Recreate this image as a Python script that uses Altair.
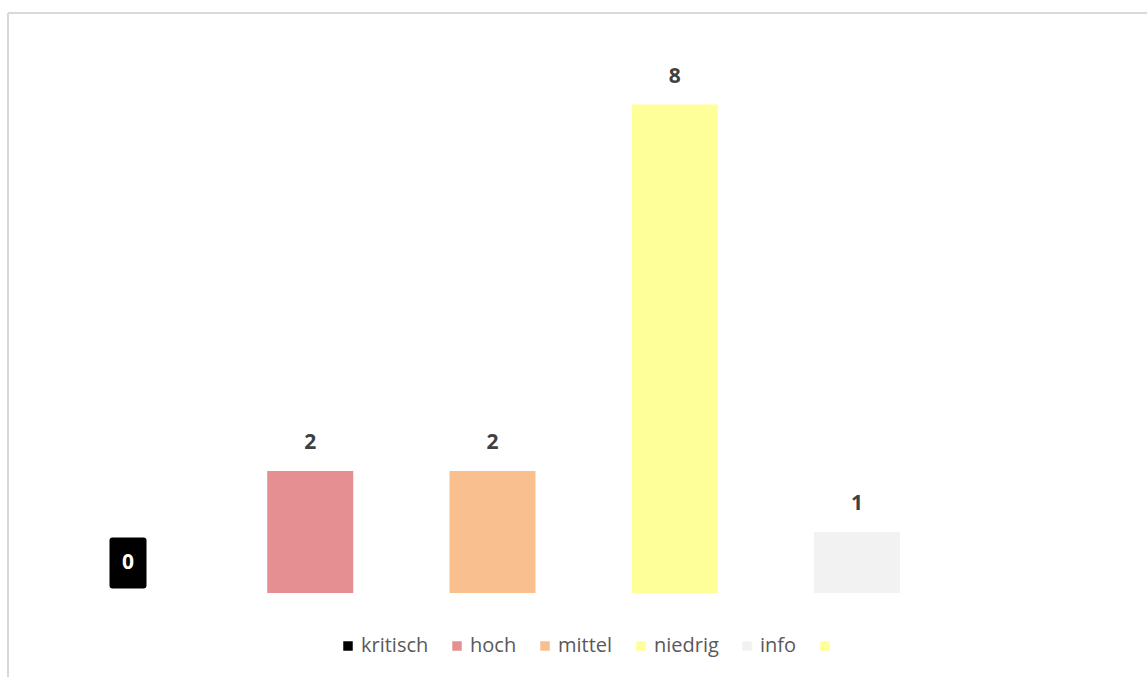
import altair as alt
import pandas as pd

# Data
kategorien = ["kritisch", "hoch", "mittel", "niedrig", "info", " "]
werte = [0, 2, 2, 8, 1, None]
farben = ["#000000", "#e58f92", "#f9bf8f", "#ffff99", "#f2f2f2", "#ffff99"]

df = pd.DataFrame({"kategorie": kategorien, "wert": werte})
frame = pd.DataFrame({"r": [0]})

FONT = "Open Sans"
W, H = 1139, 580

x_enc = alt.X(
    "kategorie:N",
    sort=kategorien,
    axis=None,
    scale=alt.Scale(domain=kategorien, paddingInner=0.528, paddingOuter=0.389, align=0.543),
)
y_scale = alt.Scale(domain=[0, 9.5], nice=False, zero=True)
y_enc = alt.Y("wert:Q", scale=y_scale, axis=None)

legend = alt.Legend(
    orient="none",
    legendX=330,
    legendY=623,
    direction="horizontal",
    columns=6,
    title=None,
    symbolType="square",
    symbolSize=90,
    symbolStrokeWidth=0,
    labelFont=FONT,
    labelFontSize=20,
    labelColor="#595959",
    labelOffset=3,
    columnPadding=18,
)

bars = alt.Chart(df).mark_bar().encode(
    x=x_enc,
    y=y_enc,
    color=alt.Color("kategorie:N", scale=alt.Scale(domain=kategorien, range=farben), legend=legend),
)

labels = alt.Chart(df).transform_filter("datum.wert > 0").mark_text(
    font=FONT, fontSize=21, fontWeight="bold", color="#404040", baseline="alphabetic", dy=-22
).encode(x=x_enc, y=y_enc, text="wert:Q")

box_path = (
    "M-0.61,-1 L0.61,-1 Q0.7255,-1 0.7255,-0.882 L0.7255,0.882 Q0.7255,1 0.61,1 "
    "L-0.61,1 Q-0.7255,1 -0.7255,0.882 L-0.7255,-0.882 Q-0.7255,-1 -0.61,-1 Z"
)
zero_box = alt.Chart(df).transform_filter("datum.wert == 0").mark_point(
    shape=box_path, size=2601, filled=True, opacity=1, color="#000000", strokeWidth=0, yOffset=-30
).encode(x=x_enc, y=y_enc)

zero_text = alt.Chart(df).transform_filter("datum.wert == 0").mark_text(
    font=FONT, fontSize=21, fontWeight="bold", color="#ffffff", baseline="middle", dy=-30
).encode(x=x_enc, y=y_enc, text="wert:Q")

top_rule = alt.Chart(frame).mark_rule(color="#d9d9d9", strokeWidth=2).encode(
    x=alt.value(0), x2=alt.value(W + 20), y=alt.value(0)
)
left_rule = alt.Chart(frame).mark_rule(color="#d9d9d9", strokeWidth=2).encode(
    x=alt.value(0), y=alt.value(0), y2=alt.value(H + 120)
)

chart = (
    alt.layer(bars, labels, zero_box, zero_text, top_rule, left_rule)
    .properties(
        width=W,
        height=H,
        autosize=alt.AutoSizeParams(type="none"),
        padding={"left": 8, "top": 13, "right": 0, "bottom": 84},
        background="#ffffff",
    )
    .configure_view(stroke=None)
)

chart.save("out.html", embed_options={"renderer": "svg", "actions": False})
